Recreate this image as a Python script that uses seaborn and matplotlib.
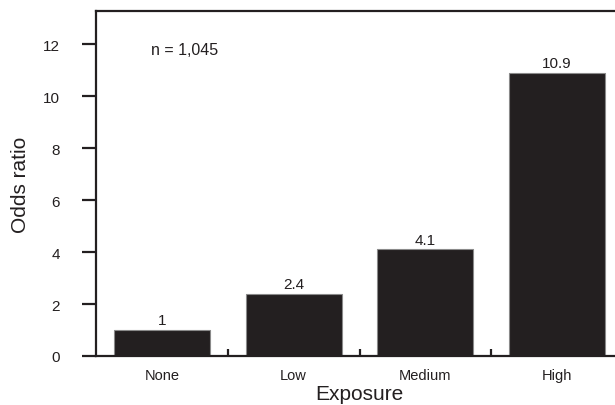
import pandas as pd
import seaborn as sns
import matplotlib.pyplot as plt
from matplotlib.ticker import FixedLocator

#################### Data ####################

exposure = ['None', 'Low', 'Medium', 'High']
odds_ratio = [1, 2.4, 4.1, 10.9]
n_label = 'n = 1,045'

df = pd.DataFrame({'Exposure': exposure, 'Odds ratio': odds_ratio})

#################### Style ####################

sns.set_style('ticks')
plt.rcParams['font.family'] = ['Liberation Sans Narrow', 'Liberation Sans', 'DejaVu Sans']
ink = '#231f20'
sans = ['Liberation Sans', 'DejaVu Sans']

fig = plt.figure(figsize=(6.15, 4.06), dpi=100)
ax = fig.add_axes([96 / 615, 1 - 357 / 406, 527 / 615, 345 / 406])

#################### Plot ####################

sns.barplot(data=df, x='Exposure', y='Odds ratio', color=ink, saturation=1,
            width=0.727, edgecolor='#8a8a8a', linewidth=0.8, ax=ax)

ax.bar_label(ax.containers[0], labels=[f'{v:g}' for v in odds_ratio],
             padding=2, fontsize=11, color=ink)

ax.set_xlim(-0.5, 3.5)
ax.set_ylim(0, 13.27)
ax.set_yticks(range(0, 13, 2))

ax.text(0.17, 11.8, n_label, ha='center', va='center', fontsize=11.5,
        family=sans, color=ink)

for side in ['left', 'bottom', 'top']:
    ax.spines[side].set_linewidth(1.6)
    ax.spines[side].set_color(ink)
ax.spines['right'].set_visible(False)

ax.tick_params(axis='y', direction='out', length=10, width=1.6, color=ink,
               pad=16, labelsize=11, labelcolor=ink)
ax.tick_params(axis='x', which='major', length=0, pad=9, labelsize=10.5, labelcolor=ink)
ax.xaxis.set_minor_locator(FixedLocator([0.5, 1.5, 2.5]))
ax.tick_params(axis='x', which='minor', direction='in', length=5, width=1.6, color=ink)

ax.set_ylabel('Odds ratio', fontsize=15, family=sans, color=ink, labelpad=9)
ax.set_xlabel('Exposure', fontsize=15, family=sans, color=ink, labelpad=1)

plt.savefig('out.png', dpi=100)
